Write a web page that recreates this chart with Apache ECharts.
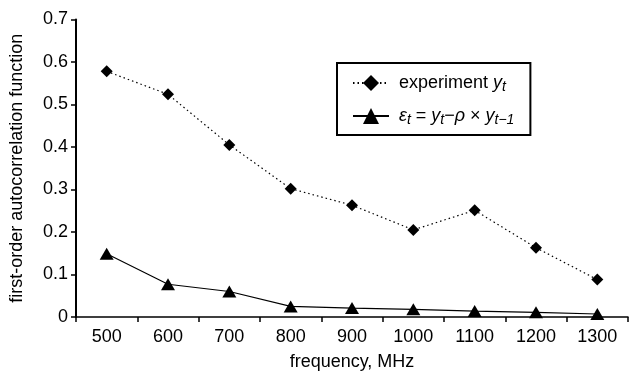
<!DOCTYPE html>
<html><head><meta charset="utf-8">
<script src="https://cdn.jsdelivr.net/npm/echarts@6/dist/echarts.min.js"></script>
<style>html,body{margin:0;padding:0;background:#fff}#c{width:632px;height:376px}</style>
</head><body><div id="c"></div>
<script>
const categories = ['500','600','700','800','900','1000','1100','1200','1300'];
const experiment = [0.578, 0.524, 0.405, 0.302, 0.263, 0.205, 0.251, 0.163, 0.088];
const residual = [0.149, 0.077, 0.060, 0.025, 0.021, 0.018, 0.014, 0.011, 0.007];
const yTicks = ['0','0.1','0.2','0.3','0.4','0.5','0.6','0.7'];

const font = 'Liberation Sans, Arial, sans-serif';
const rich = {
  n: {fontFamily: font, fontSize: 18, color: '#000'},
  i: {fontFamily: font, fontSize: 18, fontStyle: 'italic', color: '#000'},
  s: {fontFamily: font, fontSize: 14, fontStyle: 'italic', color: '#000', verticalAlign: 'bottom', padding: [8,0,0,0]}
};
const chart = echarts.init(document.getElementById('c'));
chart.setOption({
  animation: false,
  textStyle: {fontFamily: font},
  grid: {left: 70, right: 4, top: 19.5, bottom: 56},
  legend: {
    orient: 'vertical', left: 337, top: 63,
    padding: [11, 16, 8, 15], itemGap: 13, itemWidth: 36, itemHeight: 20,
    borderColor: '#000', borderWidth: 2,
    textStyle: {rich: rich, fontSize: 18, color: '#000', padding: [0,0,0,5]},
    data: ['exp', 'res'],
    formatter: function (name) {
      if (name === 'exp') return '{n|experiment }{i|y}{s|t}';
      return '{i|ε}{s|t}{n| = }{i|y}{s|t}{n|−}{i|ρ}{n| × }{i|y}{s|t−1}';
    }
  },
  xAxis: {
    type: 'category', data: categories, boundaryGap: true,
    axisLine: {lineStyle: {color: '#000', width: 1.5}},
    axisTick: {show: true, alignWithLabel: false, length: 5, lineStyle: {color: '#000', width: 1.5}},
    axisLabel: {color: '#000', fontSize: 18, margin: 11},
    name: 'frequency, MHz', nameLocation: 'middle', nameGap: 36,
    nameTextStyle: {color: '#000', fontSize: 18}
  },
  yAxis: {
    type: 'value', min: 0, max: 0.7, interval: 0.1,
    axisLine: {show: true, lineStyle: {color: '#000', width: 2}},
    axisTick: {show: true, length: 5, lineStyle: {color: '#000', width: 1.5}},
    splitLine: {show: false},
    axisLabel: {color: '#000', fontSize: 18, margin: 8,
      formatter: function (v) { return yTicks[Math.round(v * 10)]; }},
    name: 'first-order autocorrelation function', nameLocation: 'middle', nameGap: 50,
    nameTextStyle: {color: '#000', fontSize: 18}
  },
  series: [
    {name: 'exp', type: 'line', data: experiment, symbol: 'diamond', symbolSize: 12,
     itemStyle: {color: '#000'}, lineStyle: {color: '#000', width: 1.2, type: [1.5, 3]}},
    {name: 'res', type: 'line', data: residual, symbol: 'triangle', symbolSize: [14, 12],
     itemStyle: {color: '#000'}, lineStyle: {color: '#000', width: 1.2}}
  ]
});
</script></body></html>
